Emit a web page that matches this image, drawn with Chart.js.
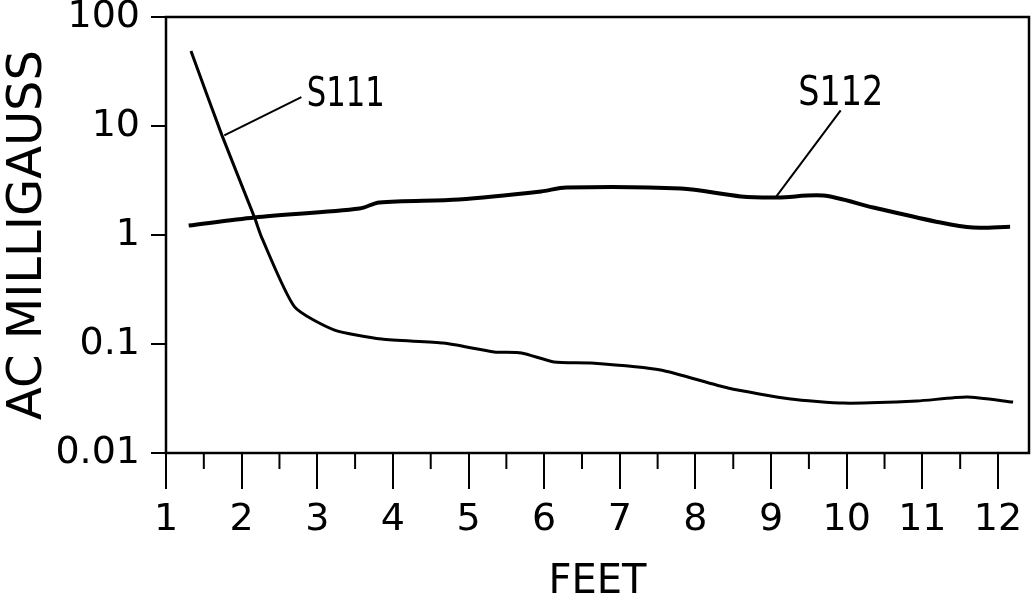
<!DOCTYPE html>
<html>
<head>
<meta charset="utf-8">
<script src="https://cdn.jsdelivr.net/npm/chart.js@4.4.1/dist/chart.umd.min.js"></script>
<style>
  html, body { margin: 0; padding: 0; background: #fff; }
  #wrap { width: 1034px; height: 603px; }
</style>
</head>
<body>
<div id="wrap"><canvas id="fieldChart"></canvas></div>
<script>
// distance from the source, feet / field strength, AC milligauss
const s111Feet   = [1.33, 1.74, 2.17, 2.27, 2.70, 3.22, 3.85, 4.67, 5.34, 5.70, 6.13, 6.62, 7.54, 8.43, 9.26, 9.96, 10.93, 11.59, 12.20];
const s111Values = [48.7, 8.2, 1.45, 0.93, 0.219, 0.135, 0.111, 0.102, 0.0846, 0.0828, 0.0685, 0.067, 0.0578, 0.0395, 0.0313, 0.0287, 0.030, 0.0326, 0.0293];

const s112Feet   = [1.30, 2.17, 3.56, 3.82, 4.87, 5.96, 6.29, 7.81, 8.60, 9.09, 9.69, 10.35, 11.24, 11.67, 12.16];
const s112Values = [1.22, 1.45, 1.75, 1.99, 2.12, 2.51, 2.73, 2.67, 2.26, 2.21, 2.30, 1.79, 1.30, 1.17, 1.19];

const xTicks = [1, 2, 3, 4, 5, 6, 7, 8, 9, 10, 11, 12];
const yTicks = [0.01, 0.1, 1, 10, 100];
const yTickLabels = ['0.01', '0.1', '1', '10', '100'];

// series labels with leader lines (data coordinates)
const callouts = [
    { text: 'S111', from: [1.77, 8.2], to: [2.79, 18.4], at: [2.86, 19.1], width: 78 },
    { text: 'S112', from: [9.06, 2.21], to: [9.92, 13.9], at: [9.36, 19.5], width: 85 },
];

const FONT = '"DejaVu Sans", sans-serif';
const pts = (xs, ys) => xs.map((x, i) => ({ x: x, y: ys[i] }));

const framePlugin = {
    id: 'frame',
    afterDraw(chart) {
        const { ctx, chartArea: a, scales: { x, y } } = chart;
        ctx.save();
        ctx.strokeStyle = '#000';
        ctx.lineWidth = 2.5;
        ctx.strokeRect(a.left, a.top, a.right - a.left, a.bottom - a.top);

        // half-foot minor ticks
        ctx.lineWidth = 2;
        for (let v = 1.5; v < x.max; v += 1) {
            const px = x.getPixelForValue(v);
            ctx.beginPath();
            ctx.moveTo(px, a.bottom);
            ctx.lineTo(px, a.bottom + 16);
            ctx.stroke();
        }

        ctx.font = '40px ' + FONT;
        ctx.fillStyle = '#000';
        ctx.textBaseline = 'middle';
        ctx.lineWidth = 2;
        callouts.forEach(c => {
            ctx.beginPath();
            ctx.moveTo(x.getPixelForValue(c.from[0]), y.getPixelForValue(c.from[1]));
            ctx.lineTo(x.getPixelForValue(c.to[0]), y.getPixelForValue(c.to[1]));
            ctx.stroke();
            ctx.fillText(c.text, x.getPixelForValue(c.at[0]), y.getPixelForValue(c.at[1]), c.width);
        });
        ctx.restore();
    }
};

new Chart(document.getElementById('fieldChart'), {
    type: 'line',
    data: {
        datasets: [
            { label: 'S111', data: pts(s111Feet, s111Values), borderColor: '#000', borderWidth: 3, pointRadius: 0, tension: 0.2, fill: false },
            { label: 'S112', data: pts(s112Feet, s112Values), borderColor: '#000', borderWidth: 4, pointRadius: 0, tension: 0.3, fill: false },
        ]
    },
    options: {
        responsive: true,
        maintainAspectRatio: false,
        animation: false,
        layout: { padding: { top: 17, right: 5, left: 0, bottom: 0 } },
        plugins: { legend: { display: false }, tooltip: { enabled: false } },
        scales: {
            x: {
                type: 'linear',
                min: 1, max: 12.41,
                afterBuildTicks: (s) => { s.ticks = xTicks.map(v => ({ value: v })); },
                afterFit: (s) => { s.height = 150; s.paddingLeft = 0; s.paddingRight = 0; },
                border: { display: false },
                grid: { drawOnChartArea: false, tickLength: 36, color: '#000', lineWidth: 2 },
                ticks: { color: '#000', font: { family: FONT, size: 38 }, padding: 8, maxRotation: 0, autoSkip: false },
                title: { display: true, text: 'FEET', color: '#000', font: { family: FONT, size: 40, lineHeight: 1 }, padding: 0 },
            },
            y: {
                type: 'logarithmic',
                min: 0.01, max: 100,
                afterBuildTicks: (s) => { s.ticks = yTicks.map(v => ({ value: v })); },
                afterFit: (s) => { s.width = 166; s.paddingTop = 0; s.paddingBottom = 0; },
                border: { display: false },
                grid: { drawOnChartArea: false, tickLength: 15, color: '#000', lineWidth: 2 },
                ticks: {
                    color: '#000', font: { family: FONT, size: 38 }, padding: 11, autoSkip: false,
                    callback: (v) => { const i = yTicks.indexOf(v); return i < 0 ? '' : yTickLabels[i]; },
                },
                title: { display: true, text: 'AC MILLIGAUSS', color: '#000', font: { family: FONT, size: 48, lineHeight: 1 }, padding: { top: 5, bottom: 0 } },
            },
        },
    },
    plugins: [framePlugin],
});
</script>
</body>
</html>
